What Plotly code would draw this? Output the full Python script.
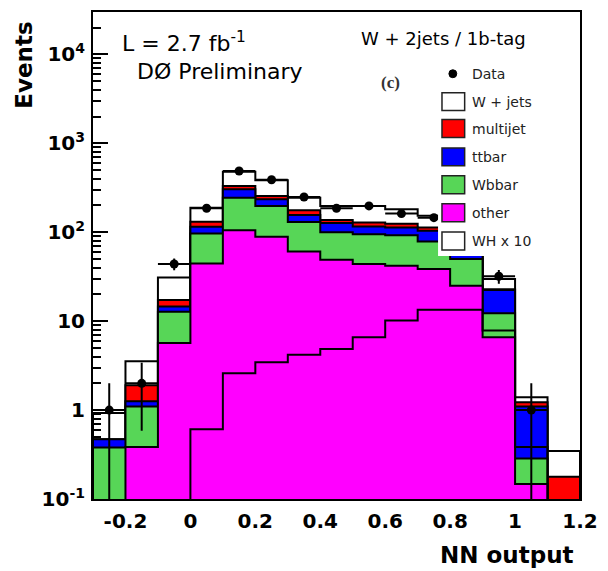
import numpy as np
import plotly.graph_objects as go

# NN output binning: 15 bins of width 0.1 from -0.3 to 1.2
edges = np.round(np.arange(-0.3, 1.2001, 0.1), 2)
centers = (edges[:-1] + edges[1:]) / 2

# Background expectations per bin (events)
other = [0, 0.385, 5.7, 44.6, 105, 88.8, 60.8, 49, 43.9, 42, 38.5, 25, 6.6, 0.147, 0]
wbbar = [0.38, 0.715, 7.1, 52.2, 140, 109, 70, 51, 51, 50.8, 40.2, 24.9, 5.7, 0.139, 0]
ttbar = [0.09, 0.155, 1.8, 18.2, 59, 37, 26, 27, 21, 20.2, 25.3, 20, 10.1, 0.81, 0]
multijet = [0, 0.645, 2.7, 16, 27, 21, 20, 10, 13, 12, 9, 6, 0.4, 0.13, 0.178]
wjets = [0.46, 1.65, 13.7, 58, 149, 128, 68, 61, 69, 56, 40, 29, 7, 0.17, 0.169]

# Signal (scaled by 10) and observed data
wh_x10 = [0, 0, 0, 0.61, 2.6, 3.46, 4.19, 4.85, 6.6, 10.2, 13.4, 13.4, 7.85, 0.385, 0]
data = [1, 2, 44, 186, 488, 390, 249, 186, 198, 162, 146, 110, 32, 1, 0]

x_ticks = [-0.2, 0, 0.2, 0.4, 0.6, 0.8, 1.0, 1.2]
x_ticktext = ["-0.2", "0", "0.2", "0.4", "0.6", "0.8", "1", "1.2"]
y_ticks = [0.1, 1, 10, 100, 1000, 10000]
y_ticktext = ["10<sup>-1</sup>", "1", "10", "10<sup>2</sup>", "10<sup>3</sup>", "10<sup>4</sup>"]

Y_MAX = 3e4
BASE = 1e-3  # floor used for empty bins, below the visible range

GREEN = "rgb(87,214,87)"
COLORS = {"other": "#FF00FF", "wbbar": GREEN, "ttbar": "#0000FF",
          "multijet": "#FF0000", "wjets": "white"}


def step_path(vals):
    xs, ys = [edges[0]], [BASE]
    for lo, hi, v in zip(edges[:-1], edges[1:], vals):
        v = v if v > 0 else BASE
        xs += [lo, hi]
        ys += [v, v]
    xs.append(edges[-1])
    ys.append(BASE)
    return xs, ys


fig = go.Figure()

# Cumulative stack levels, drawn from the top level downwards
stack = [("other", other), ("wbbar", wbbar), ("ttbar", ttbar),
         ("multijet", multijet), ("wjets", wjets)]
levels = np.cumsum(np.array([s[1] for s in stack], dtype=float), axis=0)

for i in range(len(stack) - 1, -1, -1):
    name = stack[i][0]
    xs, ys = step_path(levels[i])
    filled = name != "wjets"
    fig.add_trace(go.Scatter(
        x=xs, y=ys, mode="lines",
        line=dict(color="black", width=2),
        fill="toself" if filled else "none",
        fillcolor=COLORS[name] if filled else None,
        hoverinfo="skip", name=name,
    ))

# WH x 10 outline
xs, ys = step_path(wh_x10)
fig.add_trace(go.Scatter(x=xs, y=ys, mode="lines",
                         line=dict(color="black", width=2),
                         hoverinfo="skip", name="WH x 10"))

# Data points with Poisson errors
d = np.array(data, dtype=float)
fig.add_trace(go.Scatter(
    x=centers, y=[v if v > 0 else None for v in d],
    mode="markers", marker=dict(color="black", size=9),
    error_y=dict(type="data", array=np.sqrt(d), color="black", thickness=2, width=0),
    error_x=dict(type="constant", value=0.05, color="black", thickness=2, width=0),
    name="Data",
))

# Plot-area geometry in pixels
L, R, T, B = 93, 587, 10, 499
W_PX, H_PX = 608, 571


def px(x):
    return (x - L) / (R - L)


def py(y):
    return (B - y) / (B - T)


minor_vals = [m * 10.0 ** k for k in range(-1, 5) for m in range(2, 10) if m * 10.0 ** k <= Y_MAX]

fig.update_layout(
    width=W_PX, height=H_PX,
    margin=dict(l=L, r=W_PX - R, t=T, b=H_PX - B),
    paper_bgcolor="white", plot_bgcolor="white",
    showlegend=False,
    xaxis=dict(
        range=[edges[0], edges[-1]], showgrid=False, zeroline=False,
        showline=True, linecolor="black", linewidth=2, mirror=True,
        ticks="", tickmode="array", tickvals=x_ticks, ticktext=x_ticktext,
        tickfont=dict(family="DejaVu Sans", size=20, color="black", weight="bold"),
        ticklabelstandoff=3, layer="below traces",
    ),
    yaxis=dict(
        type="log", range=[-1, np.log10(Y_MAX)], showgrid=False, zeroline=False,
        showline=True, linecolor="black", linewidth=2, mirror=True,
        ticks="inside", ticklen=15, tickwidth=2, tickcolor="black",
        tickmode="array", tickvals=y_ticks, ticktext=y_ticktext,
        tickfont=dict(family="DejaVu Sans", size=20, color="black", weight="bold"),
        ticklabelstandoff=2,
        minor=dict(tickmode="array", tickvals=minor_vals, ticks="inside",
                   ticklen=8, tickwidth=2, tickcolor="black", showgrid=False),
        layer="below traces",
    ),
)

annotations = [
    dict(text="Events", x=px(23), y=py(63), xref="paper", yref="paper",
         textangle=-90, showarrow=False, xanchor="center", yanchor="middle",
         font=dict(family="DejaVu Sans", size=23, color="black", weight="bold")),
    dict(text="NN output", x=px(583), y=py(555), xref="paper", yref="paper",
         showarrow=False, xanchor="right", yanchor="middle",
         font=dict(family="DejaVu Sans", size=23, color="black", weight="bold")),
    dict(text="L = 2.7 fb<sup>-1</sup>", x=px(120), y=py(40), xref="paper", yref="paper",
         showarrow=False, xanchor="left", yanchor="middle",
         font=dict(family="DejaVu Sans", size=22, color="black")),
    dict(text="DØ Preliminary", x=px(136), y=py(70), xref="paper", yref="paper",
         showarrow=False, xanchor="left", yanchor="middle",
         font=dict(family="DejaVu Sans", size=22, color="black")),
    dict(text="W + 2jets / 1b-tag", x=px(363), y=py(37), xref="paper", yref="paper",
         showarrow=False, xanchor="left", yanchor="middle",
         font=dict(family="DejaVu Sans", size=18, color="black")),
    dict(text="<b>(c)</b>", x=px(395), y=py(81), xref="paper", yref="paper",
         showarrow=False, xanchor="center", yanchor="middle",
         font=dict(family="Liberation Serif", size=17, color="#333")),
]

# Legend panel
shapes = [dict(type="rect", xref="paper", yref="paper", layer="above",
               x0=px(443), x1=px(575), y0=py(255), y1=py(58),
               fillcolor="white", line=dict(width=0))]

legend_rows = [("W + jets", "white", 100), ("multijet", "#FF0000", 127),
               ("ttbar", "#0000FF", 155.5), ("Wbbar", GREEN, 183.5),
               ("other", "#FF00FF", 211.5), ("WH x 10", "white", 240)]
for label, color, yc in legend_rows:
    shapes.append(dict(type="rect", xref="paper", yref="paper", layer="above",
                       x0=px(447), x1=px(470), y0=py(yc + 9), y1=py(yc - 9),
                       fillcolor=color, line=dict(color="#222", width=1.5)))
    annotations.append(dict(text=label, x=px(475), y=py(yc), xref="paper", yref="paper",
                            showarrow=False, xanchor="left", yanchor="middle",
                            font=dict(family="DejaVu Sans", size=14, color="#222")))

shapes.append(dict(type="circle", xref="paper", yref="paper", layer="above",
                   x0=px(454), x1=px(462), y0=py(76), y1=py(68),
                   fillcolor="black", line=dict(color="black", width=1)))
annotations.append(dict(text="Data", x=px(475), y=py(72), xref="paper", yref="paper",
                        showarrow=False, xanchor="left", yanchor="middle",
                        font=dict(family="DejaVu Sans", size=14, color="#222")))

fig.update_layout(annotations=annotations, shapes=shapes)

fig.write_html("out.html")
